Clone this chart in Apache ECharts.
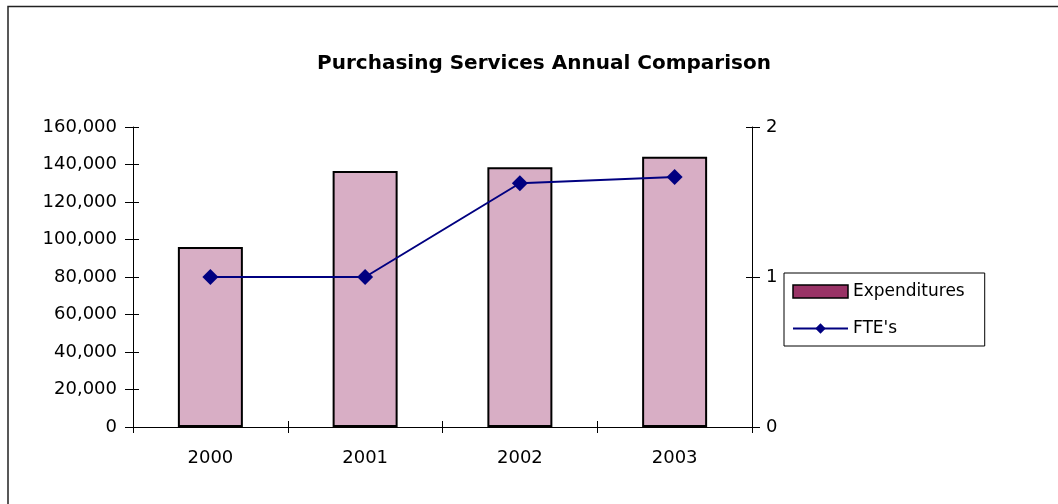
<!DOCTYPE html>
<html>
<head>
<meta charset="utf-8">
<script src="https://cdn.jsdelivr.net/npm/echarts@6/dist/echarts.min.js"></script>
<style>
    html, body { margin: 0; padding: 0; background: #fff; }
    #chart { width: 1058px; height: 504px; }
</style>
</head>
<body>
<div id="chart"></div>
<script>
    // chart data
    var years = ['2000', '2001', '2002', '2003'];
    var expenditures = [96000, 136500, 138500, 144200];
    var ftes = [1, 1, 1.625, 1.667];

    var font = 'DejaVu Sans, sans-serif';
    var chart = echarts.init(document.getElementById('chart'));

    // extra axes only draw the inner half of the crossing ticks
    var innerTicks = {
        axisLine: {show: false},
        axisTick: {show: true, inside: true, length: 6, lineStyle: {color: '#000'}},
        axisLabel: {show: false},
        splitLine: {show: false}
    };

    chart.setOption({
        animation: false,
        backgroundColor: '#fff',
        title: {
            text: 'Purchasing Services Annual Comparison',
            left: 539,
            textAlign: 'center',
            top: 49,
            textStyle: {fontFamily: font, fontSize: 20, fontWeight: 'bold', color: '#000'}
        },
        graphic: [{
            type: 'rect',
            shape: {x: 8, y: 6.5, width: 1060, height: 510},
            style: {fill: 'none', stroke: '#222', lineWidth: 1.5},
            silent: true
        }],
        legend: {
            orient: 'vertical',
            left: 784,
            top: 273,
            padding: [10, 20, 9, 8],
            itemGap: 20,
            itemWidth: 55,
            itemHeight: 13,
            borderColor: '#000',
            borderWidth: 1,
            textStyle: {fontFamily: font, fontSize: 17, color: '#000'},
            data: [
                {name: 'Expenditures', icon: 'rect', itemStyle: {color: '#993366', borderColor: '#000', borderWidth: 1.5}},
                {name: "FTE's"}
            ]
        },
        grid: {left: 133, right: 306, top: 127, bottom: 77},
        xAxis: [{
            type: 'category',
            data: years,
            axisLine: {lineStyle: {color: '#000'}},
            axisTick: {show: true, length: 6, lineStyle: {color: '#000'}},
            axisLabel: {fontFamily: font, fontSize: 18, color: '#000', margin: 22}
        }, Object.assign({type: 'category', data: years, position: 'bottom'}, innerTicks)],
        yAxis: [{
            type: 'value',
            min: 0,
            max: 160000,
            interval: 20000,
            splitLine: {show: false},
            axisLine: {show: true, lineStyle: {color: '#000'}},
            axisTick: {show: true, length: 8, lineStyle: {color: '#000'}},
            axisLabel: {
                fontFamily: font, fontSize: 18, color: '#000', margin: 16,
                formatter: function (v) { return v.toLocaleString('en-US'); }
            }
        }, {
            type: 'value',
            min: 0,
            max: 2,
            interval: 1,
            position: 'right',
            splitLine: {show: false},
            axisLine: {show: true, lineStyle: {color: '#000'}},
            axisTick: {show: true, length: 8, lineStyle: {color: '#000'}},
            axisLabel: {fontFamily: font, fontSize: 18, color: '#000', margin: 14}
        }, Object.assign({type: 'value', min: 0, max: 160000, interval: 20000, position: 'left'}, innerTicks),
           Object.assign({type: 'value', min: 0, max: 2, interval: 1, position: 'right'}, innerTicks)],
        series: [{
            name: 'Expenditures',
            type: 'bar',
            data: expenditures,
            barWidth: '42%',
            itemStyle: {color: '#d8aec5', borderColor: '#000', borderWidth: 2}
        }, {
            name: "FTE's",
            type: 'line',
            yAxisIndex: 1,
            data: ftes,
            symbol: 'diamond',
            symbolSize: 16,
            color: '#000080',
            lineStyle: {color: '#000080', width: 2},
            itemStyle: {color: '#000080'}
        }]
    });
</script>
</body>
</html>
